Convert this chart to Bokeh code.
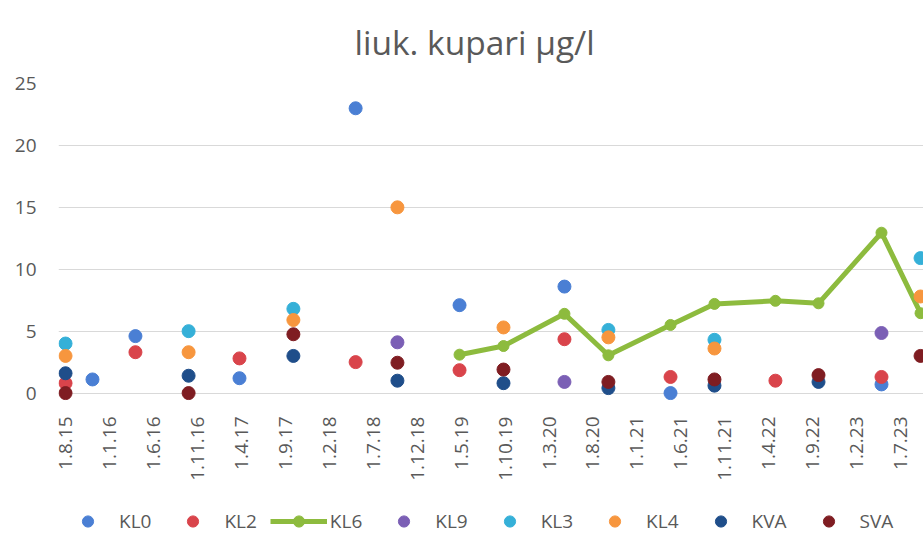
from math import pi
from bokeh.plotting import figure
from bokeh.layouts import column
from bokeh.models import FixedTicker, Legend, LegendItem, Range1d
from bokeh.embed import file_html
from bokeh.resources import INLINE

# ---------------- data ----------------
tick_labels = ["1.8.15", "1.1.16", "1.6.16", "1.11.16", "1.4.17", "1.9.17", "1.2.18",
               "1.7.18", "1.12.18", "1.5.19", "1.10.19", "1.3.20", "1.8.20", "1.1.21",
               "1.6.21", "1.11.21", "1.4.22", "1.9.22", "1.2.23", "1.7.23"]
y_ticks = [0, 5, 10, 15, 20, 25]

kl0_dates = ["2015-11-03", "2016-03-30", "2017-03-25", "2018-05-01", "2019-04-26",
             "2020-04-24", "2021-04-26", "2023-04-26"]
kl0_vals = [1.1, 4.6, 1.2, 23.0, 7.1, 8.6, 0.0, 0.7]

kl2_dates = ["2015-08-01", "2016-03-30", "2017-03-25", "2018-05-01", "2019-04-26",
             "2020-04-24", "2021-04-26", "2022-04-24", "2023-04-26"]
kl2_vals = [0.8, 3.3, 2.8, 2.5, 1.85, 4.35, 1.3, 1.0, 1.3]

kl6_dates = ["2019-04-26", "2019-09-26", "2020-04-24", "2020-09-24", "2021-04-26",
             "2021-09-26", "2022-04-24", "2022-09-21", "2023-04-26", "2023-09-09"]
kl6_vals = [3.1, 3.8, 6.4, 3.05, 5.5, 7.2, 7.45, 7.25, 12.95, 6.45]

kl9_dates = ["2018-09-24", "2020-04-24", "2023-04-26"]
kl9_vals = [4.1, 0.9, 4.85]

kl3_dates = ["2015-08-01", "2016-10-01", "2017-09-29", "2020-09-24", "2021-09-26", "2023-09-09"]
kl3_vals = [4.0, 5.0, 6.8, 5.1, 4.3, 10.9]

kl4_dates = ["2015-08-01", "2016-10-01", "2017-09-29", "2018-09-24", "2019-09-26",
             "2020-09-24", "2021-09-26", "2023-09-09"]
kl4_vals = [3.0, 3.3, 5.9, 15.0, 5.3, 4.5, 3.6, 7.8]

kva_dates = ["2015-08-01", "2016-10-01", "2017-09-29", "2018-09-24", "2019-09-26",
             "2020-09-24", "2021-09-26", "2022-09-21"]
kva_vals = [1.6, 1.4, 3.0, 1.0, 0.8, 0.4, 0.6, 0.9]

sva_dates = ["2015-08-01", "2016-10-01", "2017-09-29", "2018-09-24", "2019-09-26",
             "2020-09-24", "2021-09-26", "2022-09-21", "2023-09-09"]
sva_vals = [0.0, 0.0, 4.75, 2.45, 1.9, 0.9, 1.1, 1.45, 3.0]

# ---------------- helpers ----------------
def month_index(s):
    y, m, d = map(int, s.split("-"))
    return (y - 2015) * 12 + (m - 8) + (d - 1) / 30.44

def tick_index(lbl):
    d, m, y = map(int, lbl.split("."))
    return int(round((2000 + y - 2015) * 12 + (m - 8) + (d - 1) / 30.44))

FONT = "Open Sans"
TXT = "#595959"

p = figure(width=923, height=495, output_backend="svg", toolbar_location=None,
           x_range=Range1d(-0.8, 97.6), y_range=Range1d(-0.6, 25),
           min_border_left=58, min_border_right=0, min_border_top=83, min_border_bottom=95,
           title="liuk. kupari µg/l")
p.outline_line_color = None
p.background_fill_color = "white"
p.border_fill_color = "white"

p.title.text_font = FONT
p.title.text_font_size = "33.5px"
p.title.text_font_style = "normal"
p.title.text_color = TXT
p.title.align = "left"
p.title.offset = 296
p.title.vertical_align = "top"
p.title.standoff = 34

p.xgrid.visible = False
p.ygrid.grid_line_color = "#d9d9d9"
p.ygrid.grid_line_width = 1.2

tick_pos = [tick_index(l) for l in tick_labels]
p.xaxis.ticker = FixedTicker(ticks=tick_pos)
p.xaxis.major_label_overrides = {t: l for t, l in zip(tick_pos, tick_labels)}
p.xaxis.major_label_orientation = pi / 2
p.yaxis.ticker = FixedTicker(ticks=y_ticks)
for ax in (p.xaxis[0], p.yaxis[0]):
    ax.axis_line_color = None
    ax.major_tick_line_color = None
    ax.minor_tick_line_color = None
    ax.major_label_text_font = FONT
    ax.major_label_text_font_size = "19px"
    ax.major_label_text_color = TXT
p.xaxis.major_label_standoff = 10
p.yaxis.major_label_standoff = 16

series = [
    ("KL0", kl0_dates, kl0_vals, "#4a7fd4"),
    ("KL2", kl2_dates, kl2_vals, "#d9444b"),
    ("KL6", kl6_dates, kl6_vals, "#8dbb3e"),
    ("KL9", kl9_dates, kl9_vals, "#7b5fb5"),
    ("KL3", kl3_dates, kl3_vals, "#35b0d8"),
    ("KL4", kl4_dates, kl4_vals, "#f7963e"),
    ("KVA", kva_dates, kva_vals, "#1f4e8a"),
    ("SVA", sva_dates, sva_vals, "#7f1d22"),
]

# legend strip: a small figure whose ranges show none of the data,
# so only the legend (with glyphs from the same series) is visible
lg = figure(width=923, height=40, output_backend="svg", toolbar_location=None,
            x_range=Range1d(1000, 1001), y_range=Range1d(1000, 1001), min_border=0,
            x_axis_type=None, y_axis_type=None)
lg.outline_line_color = None
lg.xgrid.visible = False
lg.ygrid.visible = False

items = []
for name, dates, vals, col in series:
    xs = [month_index(d) for d in dates]
    if name == "KL6":
        p.line(xs, vals, line_color=col, line_width=5)
        p.scatter(xs, vals, size=11, fill_color=col, line_color=col)
        r1 = lg.line(xs, vals, line_color=col, line_width=5)
        r2 = lg.scatter(xs, vals, size=11, fill_color=col, line_color=col)
        items.append(LegendItem(label=name, renderers=[r1, r2]))
    else:
        p.scatter(xs, vals, size=13, fill_color=col, line_color=col)
        r = lg.scatter(xs, vals, size=13, fill_color=col, line_color=col)
        items.append(LegendItem(label=name, renderers=[r]))

legend = Legend(items=items, orientation="horizontal", location=(1, 0),
                glyph_width=57, glyph_height=28, label_standoff=3, spacing=13,
                padding=0, margin=0, border_line_color=None, background_fill_alpha=0,
                label_text_font=FONT, label_text_font_size="19px", label_text_color=TXT)
lg.add_layout(legend, "center")

layout = column(p, lg, spacing=0)
open("out.html", "w").write(file_html(layout, INLINE))
